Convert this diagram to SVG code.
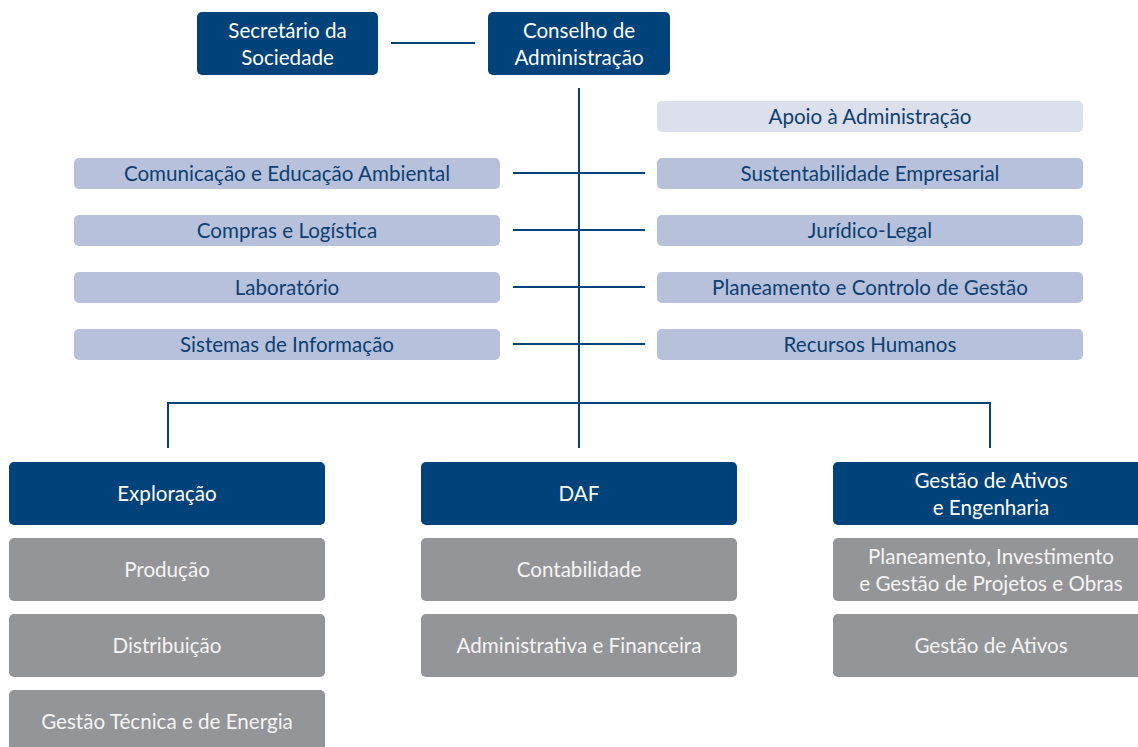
<svg xmlns="http://www.w3.org/2000/svg" width="1138" height="747" viewBox="0 0 1138 747">
<style>
text{font-family:Lato,"Liberation Sans",sans-serif;font-size:20.6px;text-anchor:middle}
.dk{fill:#00427a}
.lt{fill:#b7c1dc}
.lt2{fill:#dce0ec}
.gr{fill:#949599}
.tw{fill:#ffffff}
.tb{fill:#0d3f73}
.tg{fill:#f4f4f4}
.ln{stroke:#00427a;stroke-width:2;fill:none}
</style>
<rect width="1138" height="747" fill="#fff"/>
<g id="connectors">
<line class="ln" x1="391" y1="43" x2="475" y2="43"/>
<line class="ln" x1="579" y1="88" x2="579" y2="448"/>
<line class="ln" x1="513" y1="173" x2="645" y2="173"/>
<line class="ln" x1="513" y1="230" x2="645" y2="230"/>
<line class="ln" x1="513" y1="287" x2="645" y2="287"/>
<line class="ln" x1="513" y1="344" x2="645" y2="344"/>
<polyline class="ln" points="168,448 168,403 990,403 990,448"/>
</g>
<g id="secretario"><rect class="dk" x="197" y="12" width="181" height="63" rx="5"/><text class="tw" x="287.5" y="38">Secretário da</text><text class="tw" x="287.5" y="65">Sociedade</text></g>
<g id="conselho"><rect class="dk" x="488" y="12" width="182" height="63" rx="5"/><text class="tw" x="579" y="38">Conselho de</text><text class="tw" x="579" y="65">Administração</text></g>
<g id="apoio"><rect class="lt2" x="657" y="101" width="426" height="31" rx="5"/><text class="tb" x="870" y="124">Apoio à Administração</text></g>
<g id="comunicacao"><rect class="lt" x="74" y="158" width="426" height="31" rx="5"/><text class="tb" x="287" y="181">Comunicação e Educação Ambiental</text></g>
<g id="compras"><rect class="lt" x="74" y="215" width="426" height="31" rx="5"/><text class="tb" x="287" y="238">Compras e Logística</text></g>
<g id="laboratorio"><rect class="lt" x="74" y="272" width="426" height="31" rx="5"/><text class="tb" x="287" y="295">Laboratório</text></g>
<g id="sistemas"><rect class="lt" x="74" y="329" width="426" height="31" rx="5"/><text class="tb" x="287" y="352">Sistemas de Informação</text></g>
<g id="sustentabilidade"><rect class="lt" x="657" y="158" width="426" height="31" rx="5"/><text class="tb" x="870" y="181">Sustentabilidade Empresarial</text></g>
<g id="juridico"><rect class="lt" x="657" y="215" width="426" height="31" rx="5"/><text class="tb" x="870" y="238">Jurídico-Legal</text></g>
<g id="planeamento"><rect class="lt" x="657" y="272" width="426" height="31" rx="5"/><text class="tb" x="870" y="295">Planeamento e Controlo de Gestão</text></g>
<g id="recursos"><rect class="lt" x="657" y="329" width="426" height="31" rx="5"/><text class="tb" x="870" y="352">Recursos Humanos</text></g>
<g id="exploracao"><rect class="dk" x="9" y="462" width="316" height="63" rx="5"/><text class="tw" x="167" y="501">Exploração</text></g>
<g id="daf"><rect class="dk" x="421" y="462" width="316" height="63" rx="5"/><text class="tw" x="579" y="501">DAF</text></g>
<g id="gestao-ativos-eng"><rect class="dk" x="833" y="462" width="316" height="63" rx="5"/><text class="tw" x="991" y="488">Gestão de Ativos</text><text class="tw" x="991" y="515">e Engenharia</text></g>
<g id="producao"><rect class="gr" x="9" y="538" width="316" height="63" rx="5"/><text class="tg" x="167" y="577">Produção</text></g>
<g id="distribuicao"><rect class="gr" x="9" y="614" width="316" height="63" rx="5"/><text class="tg" x="167" y="653">Distribuição</text></g>
<g id="gestao-tecnica"><rect class="gr" x="9" y="690" width="316" height="63" rx="5"/><text class="tg" x="167" y="729">Gestão Técnica e de Energia</text></g>
<g id="contabilidade"><rect class="gr" x="421" y="538" width="316" height="63" rx="5"/><text class="tg" x="579" y="577">Contabilidade</text></g>
<g id="administrativa"><rect class="gr" x="421" y="614" width="316" height="63" rx="5"/><text class="tg" x="579" y="653">Administrativa e Financeira</text></g>
<g id="planeamento-invest"><rect class="gr" x="833" y="538" width="316" height="63" rx="5"/><text class="tg" x="991" y="564">Planeamento, Investimento</text><text class="tg" x="991" y="591">e Gestão de Projetos e Obras</text></g>
<g id="gestao-ativos"><rect class="gr" x="833" y="614" width="316" height="63" rx="5"/><text class="tg" x="991" y="653">Gestão de Ativos</text></g>
</svg>
